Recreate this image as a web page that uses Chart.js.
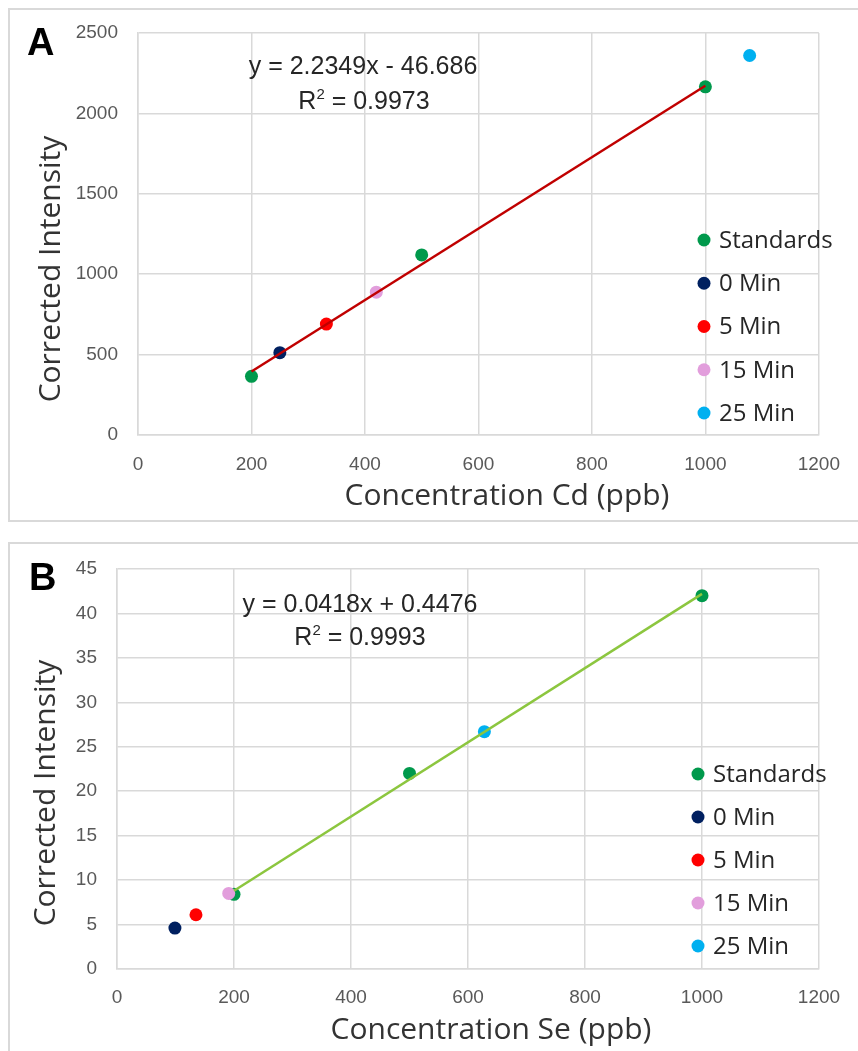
<!DOCTYPE html>
<html>
<head>
<meta charset="utf-8">
<script src="https://cdn.jsdelivr.net/npm/chart.js@4.4.1/dist/chart.umd.min.js"></script>
<style>
html, body { margin: 0; padding: 0; background: #fff; }
body { width: 858px; height: 1051px; position: relative; overflow: hidden; }
.frame { position: absolute; border: 2px solid #d9d9d9; box-sizing: border-box; }
.holder { position: absolute; left: 0; width: 858px; }
</style>
</head>
<body>
<div class="frame" style="left:8px;top:8px;width:860px;height:514px"></div>
<div class="frame" style="left:8px;top:542px;width:860px;height:520px"></div>
<div class="holder" style="top:0;height:530px"><canvas id="chartCd"></canvas></div>
<div class="holder" style="top:530px;height:521px"><canvas id="chartSe"></canvas></div>

<script>
// series shared by both panels
const seriesNames = ['Standards', '0 Min', '5 Min', '15 Min', '25 Min'];
const seriesColors = ['#00994C', '#002060', '#FF0000', '#E29EDC', '#00B0F0'];

// Panel A - cadmium
const cdStdX = [200, 500, 1000];
const cdStdY = [365, 1120, 2165];
const cdSampleX = [250, 332, 420, 1078];   // 0, 5, 15, 25 min
const cdSampleY = [512, 690, 888, 2360];
const cdFitX = [200, 1000];
const cdFitY = [395, 2172];
const cdYTicks = { max: 2500, step: 500 };
const cdEquation = 'y = 2.2349x - 46.686';
const cdR2 = '0.9973';

// Panel B - selenium
const seStdX = [200, 500, 1000];
const seStdY = [8.4, 22, 42];
const seSampleX = [99, 135, 191, 628];
const seSampleY = [4.6, 6.1, 8.5, 26.7];
const seFitX = [200, 1000];
const seFitY = [8.8, 42.2];
const seYTicks = { max: 45, step: 5 };
const seEquation = 'y = 0.0418x + 0.4476';
const seR2 = '0.9993';

const xTicks = { max: 1200, step: 200 };

const ARIAL = '"Liberation Sans", Arial, sans-serif';
const SANS = '"Open Sans", "Noto Sans", sans-serif';

function pts(xs, ys) {
    return xs.map((x, i) => ({ x: x, y: ys[i] }));
}

// draws panel letter, fit equation, axis titles and the in-plot legend
const notes = {
    id: 'notes',
    afterDraw(chart, args, o) {
        const ctx = chart.ctx;
        ctx.save();
        ctx.textAlign = 'left';
        ctx.textBaseline = 'alphabetic';

        ctx.fillStyle = '#000';
        ctx.font = 'bold 38px ' + ARIAL;
        ctx.fillText(o.letter, o.letterAt[0], o.letterAt[1]);

        // equation + R squared
        ctx.fillStyle = '#262626';
        ctx.font = '25px ' + ARIAL;
        ctx.textAlign = 'center';
        ctx.fillText(o.equation, o.eqAt[0], o.eqAt[1]);
        ctx.textAlign = 'left';
        const big = '25px ' + ARIAL, small = '15px ' + ARIAL;
        ctx.font = big;
        const wR = ctx.measureText('R').width;
        const rest = ' = ' + o.r2;
        const wRest = ctx.measureText(rest).width;
        ctx.font = small;
        const w2 = ctx.measureText('2').width;
        let x = o.r2At[0] - (wR + w2 + wRest) / 2;
        ctx.font = big; ctx.fillText('R', x, o.r2At[1]); x += wR;
        ctx.font = small; ctx.fillText('2', x, o.r2At[1] - 10); x += w2;
        ctx.font = big; ctx.fillText(rest, x, o.r2At[1]);

        // axis titles
        ctx.fillStyle = '#333';
        ctx.font = '30px ' + SANS;
        ctx.textAlign = 'center';
        ctx.fillText(o.xTitle, o.xTitleAt[0], o.xTitleAt[1]);
        ctx.save();
        ctx.translate(o.yTitleAt[0], o.yTitleAt[1]);
        ctx.rotate(-Math.PI / 2);
        ctx.fillText(o.yTitle, 0, 0);
        ctx.restore();

        // legend from the point datasets
        ctx.font = '24px ' + SANS;
        ctx.textAlign = 'left';
        ctx.textBaseline = 'middle';
        let row = 0;
        chart.data.datasets.forEach(ds => {
            if (!ds.inLegend) return;
            const y = o.legendAt[1] + row * o.legendGap;
            ctx.fillStyle = ds.backgroundColor;
            ctx.beginPath();
            ctx.arc(o.legendAt[0], y, 6.5, 0, Math.PI * 2);
            ctx.fill();
            ctx.fillStyle = '#262626';
            ctx.fillText(ds.label, o.legendAt[0] + 15, y + 1);
            row++;
        });
        ctx.restore();
    }
};

function makeChart(id, p) {
    const datasets = [{
        label: 'fit',
        data: pts(p.fitX, p.fitY),
        showLine: true,
        borderColor: p.fitColor,
        borderWidth: 2.5,
        pointRadius: 0,
        order: 0
    }, {
        label: seriesNames[0],
        data: pts(p.stdX, p.stdY),
        backgroundColor: seriesColors[0],
        pointRadius: 6.5,
        borderWidth: 0,
        inLegend: true,
        order: 5
    }];
    p.sampleX.forEach((x, i) => {
        datasets.push({
            label: seriesNames[i + 1],
            data: [{ x: x, y: p.sampleY[i] }],
            backgroundColor: seriesColors[i + 1],
            pointRadius: 6.5,
            borderWidth: 0,
            inLegend: true,
            order: 4 - i
        });
    });

    const tickFont = { family: ARIAL, size: 19 };
    const plain = v => String(v);
    return new Chart(document.getElementById(id), {
        type: 'scatter',
        data: { datasets: datasets },
        plugins: [notes],
        options: {
            responsive: true,
            maintainAspectRatio: false,
            animation: false,
            layout: { padding: { left: 0, top: p.padTop, right: p.padRight, bottom: 0 } },
            plugins: {
                legend: { display: false },
                tooltip: { enabled: false },
                notes: p.notes
            },
            scales: {
                x: {
                    type: 'linear', min: 0, max: xTicks.max,
                    ticks: { stepSize: xTicks.step, padding: p.xPad, color: '#595959', font: tickFont, callback: plain },
                    grid: { color: '#d9d9d9', lineWidth: 1.5, drawTicks: false },
                    border: { color: '#d9d9d9', width: 1.5 },
                    afterFit: s => { s.height = p.xHeight; }
                },
                y: {
                    type: 'linear', min: 0, max: p.yTicks.max,
                    ticks: { stepSize: p.yTicks.step, padding: 20, color: '#595959', font: tickFont, callback: plain },
                    grid: { color: '#d9d9d9', lineWidth: 1.5, drawTicks: false },
                    border: { color: '#d9d9d9', width: 1.5 },
                    afterFit: s => { s.width = p.yWidth; }
                }
            }
        }
    });
}

makeChart('chartCd', {
    stdX: cdStdX, stdY: cdStdY, sampleX: cdSampleX, sampleY: cdSampleY,
    fitX: cdFitX, fitY: cdFitY, fitColor: '#C00000', yTicks: cdYTicks,
    padTop: 33, padRight: 34, xHeight: 95, yWidth: 138, xPad: 18,
    notes: {
        letter: 'A', letterAt: [27, 55],
        equation: cdEquation, eqAt: [363, 74],
        r2: cdR2, r2At: [364, 109],
        xTitle: 'Concentration Cd (ppb)', xTitleAt: [507, 505],
        yTitle: 'Corrected Intensity', yTitleAt: [60, 269],
        legendAt: [704, 240], legendGap: 43.25
    }
});

makeChart('chartSe', {
    stdX: seStdX, stdY: seStdY, sampleX: seSampleX, sampleY: seSampleY,
    fitX: seFitX, fitY: seFitY, fitColor: '#8CC63F', yTicks: seYTicks,
    padTop: 39, padRight: 39, xHeight: 82, yWidth: 117, xPad: 17,
    notes: {
        letter: 'B', letterAt: [29, 60],
        equation: seEquation, eqAt: [360, 82],
        r2: seR2, r2At: [360, 115],
        xTitle: 'Concentration Se (ppb)', xTitleAt: [491, 509],
        yTitle: 'Corrected Intensity', yTitleAt: [55, 263],
        legendAt: [698, 244], legendGap: 43
    }
});
</script>
</body>
</html>
